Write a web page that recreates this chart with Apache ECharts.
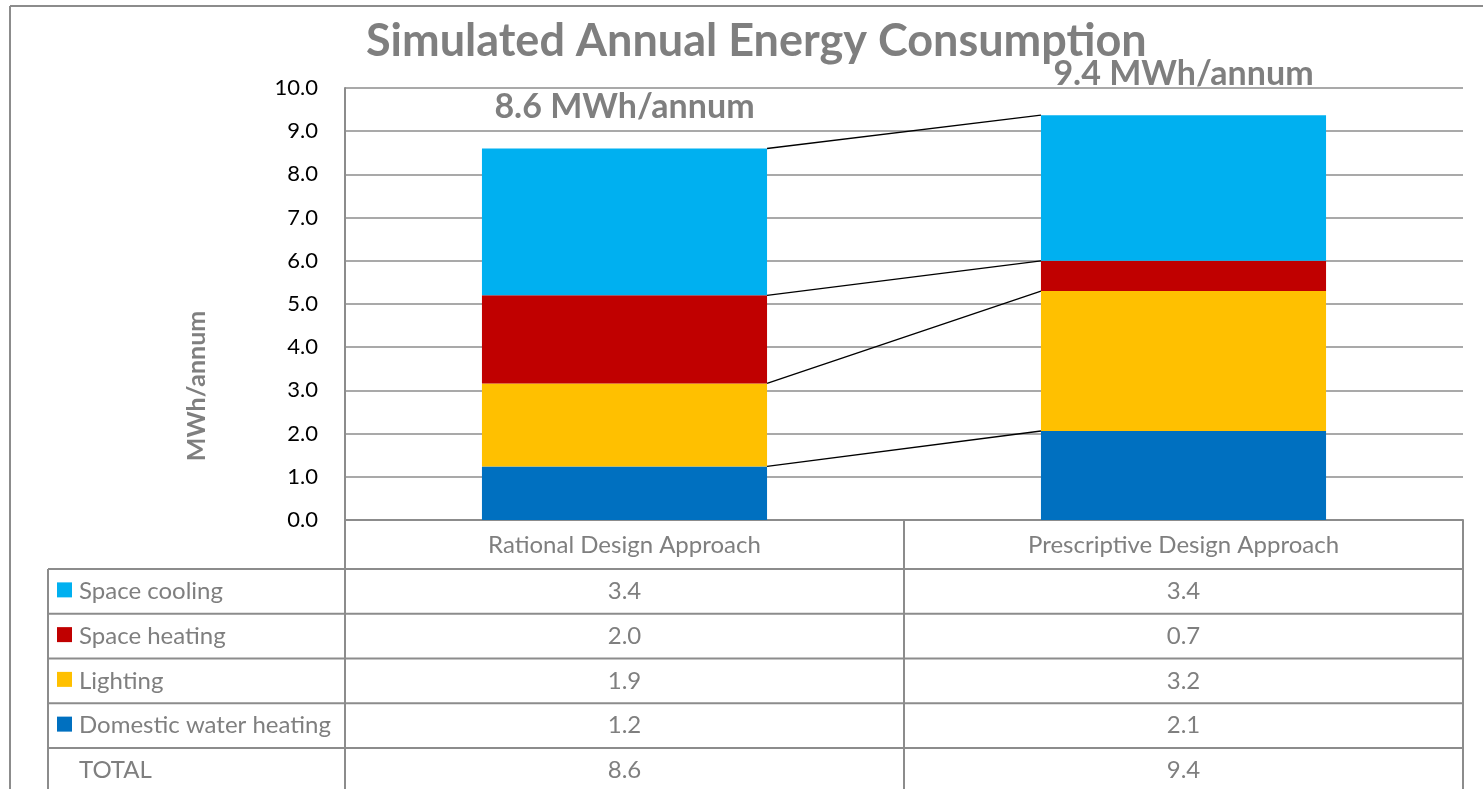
<!DOCTYPE html>
<html><head><meta charset="utf-8">
<script src="https://cdn.jsdelivr.net/npm/echarts@6/dist/echarts.min.js"></script>
<style>html,body{margin:0;padding:0;background:#fff}#c{width:1483px;height:789px}</style>
</head><body><div id="c"></div>
<script>
// ---- data ----
const categories = ['Rational Design Approach', 'Prescriptive Design Approach'];
const domesticWaterHeating = [1.24, 2.06];
const lighting = [1.92, 3.24];
const spaceHeating = [2.04, 0.70];
const spaceCooling = [3.40, 3.37];
const yTickMin = 0, yTickMax = 10, yTickStep = 1;
const titleText = 'Simulated Annual Energy Consumption';
const yAxisName = 'MWh/annum';
const totalLabel = ' MWh/annum';
const totalRowName = 'TOTAL';

// ---- styles ----
const FONT = 'Lato';
const GRAY = '#7f7f7f';
const LINE = '#8c8c8c';
const COLORS = {cool:'#00B0F0', heat:'#C00000', light:'#FFC000', dwh:'#0070C0'};
const W = 1483, H = 789;
const GRID = {left:345, right:20, top:88, bottom:269};
const BAR_FRAC = 0.51;
const TABLE_FONT = 24;

const stackSeries = [
  {name:'Domestic water heating', data:domesticWaterHeating, color:COLORS.dwh},
  {name:'Lighting', data:lighting, color:COLORS.light},
  {name:'Space heating', data:spaceHeating, color:COLORS.heat},
  {name:'Space cooling', data:spaceCooling, color:COLORS.cool}
];
const totals = categories.map((c,i)=>stackSeries.reduce((s,x)=>s+x.data[i],0));

// cumulative tops for connector lines
const connectorData = [];
{
  let c0 = 0, c1 = 0;
  stackSeries.forEach(s => { c0 += s.data[0]; c1 += s.data[1]; connectorData.push([0, c0, c1]); });
}

// ---- table geometry (layout only) ----
const plotRight = W - GRID.right;
const plotBottom = H - GRID.bottom;
const colMid = GRID.left + (plotRight - GRID.left) / 2;
const tableLeft = 48;
const headerBottom = 569;
const rowH = 44.75;
const tableRows = [stackSeries[3], stackSeries[2], stackSeries[1], stackSeries[0]].map(s=>({name:s.name, color:s.color, vals:s.data}));
tableRows.push({name:totalRowName, color:null, vals:totals});

const graphics = [];
// outer chart border
graphics.push({type:'line', shape:{x1:10,y1:6,x2:W+5,y2:6}, style:{stroke:LINE,lineWidth:2}, silent:true});
graphics.push({type:'line', shape:{x1:10,y1:6,x2:10,y2:H+5}, style:{stroke:LINE,lineWidth:2}, silent:true});
// table lines
const tb = headerBottom + rowH * tableRows.length;
[GRID.left, colMid, plotRight].forEach(x=>{
  graphics.push({type:'line', shape:{x1:x,y1:plotBottom,x2:x,y2:tb}, style:{stroke:LINE,lineWidth:2}, silent:true});
});
graphics.push({type:'line', shape:{x1:tableLeft,y1:headerBottom,x2:tableLeft,y2:tb}, style:{stroke:LINE,lineWidth:2}, silent:true});
for (let r = 0; r <= tableRows.length; r++) {
  const y = headerBottom + r*rowH;
  graphics.push({type:'line', shape:{x1:tableLeft,y1:y,x2:plotRight,y2:y}, style:{stroke:LINE,lineWidth:2}, silent:true});
}
tableRows.forEach((row, r) => {
  const cy = headerBottom + r*rowH + rowH/2;
  if (row.color) {
    graphics.push({type:'rect', shape:{x:57,y:cy-9,width:15,height:15}, style:{fill:row.color}, silent:true});
  }
  graphics.push({type:'text', x:79, y:cy, style:{text:row.name, fill:GRAY, font:TABLE_FONT+'px '+FONT, textAlign:'left', textVerticalAlign:'middle'}, silent:true});
  row.vals.forEach((v, i) => {
    const cx = GRID.left + (plotRight-GRID.left)*(i+0.5)/categories.length;
    graphics.push({type:'text', x:cx, y:cy, style:{text:v.toFixed(1), fill:GRAY, font:TABLE_FONT+'px '+FONT, textAlign:'center', textVerticalAlign:'middle'}, silent:true});
  });
});
// y-axis name
graphics.push({type:'text', x:197, y:386, rotation:Math.PI/2, style:{text:yAxisName, fill:GRAY, font:'bold 25px '+FONT, textAlign:'center', textVerticalAlign:'middle'}, silent:true});

const series = stackSeries.map((s, idx) => ({
  name: s.name, type:'bar', stack:'total', data:s.data, barWidth:(BAR_FRAC*100)+'%',
  itemStyle:{color:s.color}, animation:false,
  label: idx === stackSeries.length-1 ? {
    show:true, position:'top', distance:24,
    formatter: p => totals[p.dataIndex].toFixed(1) + totalLabel,
    color:GRAY, fontFamily:FONT, fontWeight:'bold', fontSize:34
  } : {show:false}
}));
series.push({
  type:'custom', name:'connectors', data:connectorData, z:10, animation:false,
  encode:{x:0, y:[1,2]},
  renderItem:(params, api) => {
    const p0 = api.coord([0, api.value(1)]);
    const p1 = api.coord([1, api.value(2)]);
    const half = api.size([1,0])[0] * BAR_FRAC / 2;
    return {type:'line', shape:{x1:p0[0]+half, y1:p0[1], x2:p1[0]-half, y2:p1[1]}, style:{stroke:'#000', lineWidth:1.3}};
  }
});

const chart = echarts.init(document.getElementById('c'), null, {renderer:'canvas'});
chart.setOption({
  animation:false,
  backgroundColor:'#fff',
  title:{text:titleText, left:366, top:19, padding:0,
    textStyle:{fontFamily:FONT, fontWeight:'bold', fontSize:45, color:GRAY}},
  grid:{left:GRID.left, right:GRID.right, top:GRID.top, bottom:GRID.bottom, containLabel:false},
  xAxis:{type:'category', data:categories,
    axisLine:{show:true, lineStyle:{color:LINE, width:2}}, axisTick:{show:false},
    axisLabel:{color:GRAY, fontFamily:FONT, fontSize:TABLE_FONT, margin:13}},
  yAxis:{type:'value', min:yTickMin, max:yTickMax, interval:yTickStep,
    axisLine:{show:true, lineStyle:{color:LINE, width:2}}, axisTick:{show:false},
    axisLabel:{color:'#000', fontFamily:FONT, fontSize:22, margin:27, formatter:v=>v.toFixed(1)},
    splitLine:{show:true, lineStyle:{color:LINE, width:1.5}}},
  graphic:graphics,
  series:series
});
</script></body></html>
